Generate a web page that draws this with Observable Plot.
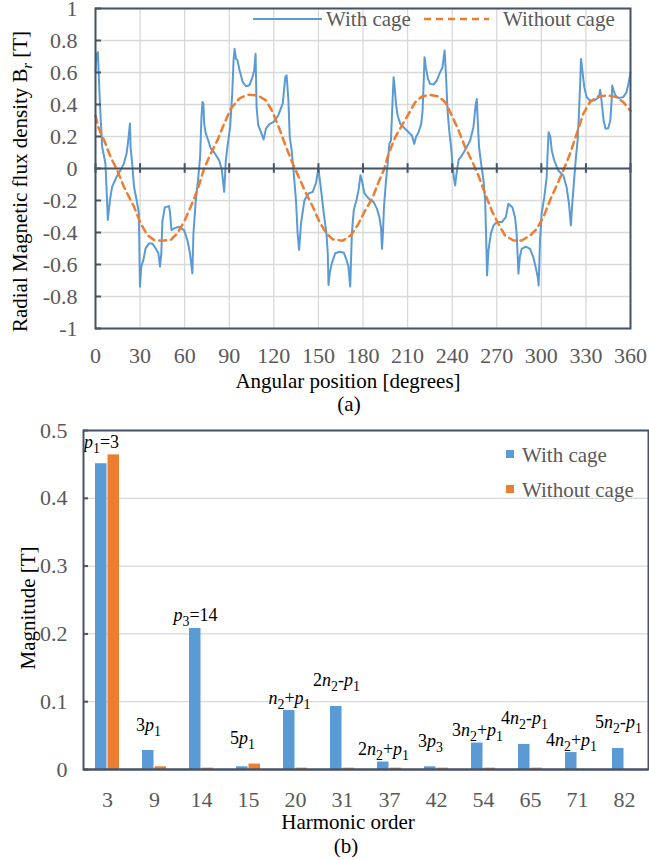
<!DOCTYPE html>
<html><head><meta charset="utf-8">
<script src="https://cdn.jsdelivr.net/npm/d3@7"></script>
<script src="https://cdn.jsdelivr.net/npm/@observablehq/plot@0.6"></script>
<style>
body{margin:0;background:#fff;font-family:"Liberation Serif","Times New Roman",Times,"DejaVu Serif",serif;}
#wrap{position:relative;width:649px;height:860px;overflow:hidden;background:#fff}
#chartA,#chartB{position:absolute;left:0}
#chartA{top:0}
#chartB{top:418px}
.ov{position:absolute;left:0;top:0;pointer-events:none;font-family:"Liberation Serif","Times New Roman",Times,"DejaVu Serif",serif;}
</style></head><body>
<div id="wrap">
  <div id="chartA"></div>
  <div id="chartB"></div>
  <svg class="ov" width="649" height="860" font-size="21" fill="#595959">
    <line x1="253" x2="322" y1="19" y2="19" stroke="#5b9bd5" stroke-width="2"/>
    <text x="326" y="26">With cage</text>
    <line x1="424" x2="489" y1="19" y2="19" stroke="#ed7d31" stroke-width="2.5" stroke-dasharray="7,5"/>
    <text x="503" y="26">Without cage</text>
    <rect x="506" y="450" width="8" height="8" fill="#5b9bd5"/>
    <text x="522" y="462">With cage</text>
    <rect x="506" y="485" width="8" height="8" fill="#ed7d31"/>
    <text x="522" y="497">Without cage</text>
  </svg>
</div>
<script>
// ---------- Panel (a): radial flux density waveform ----------
const angleWith = [0,0.7,1.6,3,4.5,6.7,8.3,9.7,11.2,14.2,16.9,19.1,20.9,21.8,23.2,23.6,24.7,25.9,27.7,29.2,29.9,30.8,32.2,33.7,36,38.2,40.5,42.3,43.4,44.3,45,46.6,49.5,50.2,51.1,52.9,56.2,59.6,61.8,63.6,65.2,65.9,67.5,69,70.4,71.3,72,72.6,73.1,74.2,75.8,77.6,80.3,83.2,85,86.6,87.7,88.8,90.6,92,92.9,93.6,94.5,95.6,96.7,99,101.2,103.5,105.3,106.8,107.7,108.4,109.5,111.3,113.1,114.7,117,119.9,123,126,127.7,128.6,129.8,130.7,132,133.4,134.9,136,137,138.3,140.6,143.3,146.2,148.4,150,151.4,153.6,155.4,156.3,156.8,157.6,159,161.3,164.2,167.1,168.9,170.2,171.4,172.5,173.8,175.6,177,178.3,179.2,181,183.7,185.5,187.2,189.4,191,192.1,192.8,193.4,194.1,195.4,196.8,197.7,198.8,199.9,200.6,201.3,202.2,203.3,205.1,207.3,210.7,212.9,214.5,215.6,217.4,219.2,220.1,220.8,221.4,222.3,223.7,225.2,227.5,229.7,231.9,233.5,234.9,235.8,236.9,238,239.3,240.2,241.1,242,242.9,244.3,246.5,249.2,252.1,254.3,255.9,256.6,257.2,258.1,259.5,261.1,262.2,262.8,263.5,264.4,266,267.8,270,273.4,276.1,277.8,280.5,282.3,283.4,284.6,285.5,286.8,289.5,292.4,294.6,296.2,297.6,298.2,299.1,300.2,302,303.6,304.3,304.9,306.1,307,308.7,311.4,314.8,317,318.6,319.9,320.8,322.2,323.3,324.4,325.3,326.2,326.7,327.6,328.9,330.5,332.7,335.6,338.8,339.6,340.5,341.9,343.2,345,346.4,347.3,347.7,348.6,349.9,352.2,355.1,357.3,358.9,360];
const fluxWith = [0.6,0.717,0.728,0.4,0.135,0.031,-0.322,-0.198,-0.114,-0.052,-0.01,0.031,0.094,0.156,0.281,0.135,0.031,-0.114,-0.198,-0.281,-0.738,-0.613,-0.572,-0.499,-0.468,-0.468,-0.499,-0.53,-0.613,-0.53,-0.333,-0.243,-0.235,-0.281,-0.385,-0.374,-0.364,-0.385,-0.447,-0.53,-0.655,-0.405,-0.198,-0.073,0.073,0.322,0.416,0.405,0.281,0.218,0.177,0.125,0.094,0.052,-0.01,-0.146,0.052,0.135,0.26,0.468,0.676,0.748,0.686,0.676,0.624,0.541,0.514,0.52,0.561,0.613,0.717,0.385,0.27,0.229,0.181,0.249,0.277,0.291,0.333,0.405,0.572,0.582,0.426,0.198,0.114,-0.031,-0.198,-0.405,-0.509,-0.343,-0.198,-0.156,-0.146,-0.089,0,-0.104,-0.281,-0.405,-0.53,-0.728,-0.655,-0.593,-0.53,-0.52,-0.526,-0.572,-0.613,-0.738,-0.405,-0.26,-0.198,-0.135,-0.042,-0.073,-0.156,-0.187,-0.198,-0.21,-0.252,-0.304,-0.367,-0.502,-0.408,-0.242,-0.085,0.05,0.154,0.175,0.425,0.571,0.508,0.404,0.331,0.279,0.258,0.227,0.206,0.154,0.196,0.227,0.279,0.363,0.529,0.696,0.633,0.56,0.529,0.525,0.55,0.602,0.633,0.738,0.592,0.363,0.238,0.133,0.029,-0.054,-0.106,-0.033,0.054,0.081,0.123,0.175,0.258,0.404,0.435,0.3,0.133,0.029,-0.075,-0.2,-0.408,-0.669,-0.513,-0.408,-0.356,-0.335,-0.335,-0.304,-0.221,-0.242,-0.304,-0.408,-0.658,-0.554,-0.502,-0.488,-0.502,-0.554,-0.617,-0.679,-0.731,-0.45,-0.283,-0.179,-0.054,0.113,0.227,0.196,0.113,0.05,-0.013,-0.044,-0.117,-0.221,-0.356,-0.221,-0.054,0.071,0.175,0.342,0.55,0.685,0.613,0.508,0.446,0.425,0.425,0.446,0.492,0.425,0.3,0.248,0.252,0.3,0.425,0.519,0.488,0.456,0.44,0.446,0.477,0.54,0.602];
const angleWithout = [0,2.2,6.7,10.1,14.6,19.1,22.5,25.9,30.4,34.9,39.4,45,50.6,55.1,59.6,64.1,68.6,73.1,77.6,82.1,86.6,91.1,96.7,102.3,109.1,114.7,119.2,123.7,128.2,132.7,137.2,141.7,146.2,150.7,155.2,159.7,166.4,172,176.5,181,186,190.5,193.9,197.2,201.7,206.2,210.7,215.2,219.6,225.2,230.8,235.3,239.8,244.3,248.7,253.2,257.7,262.2,266.6,271.1,275.6,281.2,286.8,292.4,296.9,301.4,305.8,310.3,314.8,319.3,323.8,328.2,332.7,338.3,345,350.6,355.1,360];
const fluxWithout = [0.33,0.25,0.156,0.073,-0.01,-0.114,-0.177,-0.239,-0.343,-0.416,-0.447,-0.451,-0.447,-0.405,-0.333,-0.239,-0.135,0,0.094,0.177,0.281,0.374,0.437,0.461,0.457,0.426,0.353,0.249,0.135,0.031,-0.062,-0.156,-0.239,-0.333,-0.405,-0.443,-0.451,-0.416,-0.353,-0.27,-0.19,-0.085,-0.013,0.092,0.196,0.269,0.342,0.415,0.45,0.46,0.45,0.415,0.331,0.238,0.133,0.05,-0.044,-0.158,-0.263,-0.346,-0.419,-0.45,-0.45,-0.419,-0.377,-0.304,-0.2,-0.106,-0.013,0.092,0.217,0.342,0.415,0.452,0.456,0.446,0.415,0.36];
const angleTicks = [0,30,60,90,120,150,180,210,240,270,300,330,360];
const fluxTicks = [-1,-0.8,-0.6,-0.4,-0.2,0,0.2,0.4,0.6,0.8,1];

// ---------- Panel (b): harmonic spectrum ----------
const harmonics = ["3","9","14","15","20","31","37","42","54","65","71","82"];
const magWith = [0.451,0.028,0.208,0.004,0.087,0.093,0.011,0.004,0.039,0.037,0.025,0.031];
const magWithout = [0.464,0.004,0.002,0.008,0.002,0.002,0.002,0.002,0.002,0.002,0,0];
const harmonicLabels = ["*p*_1=3","3*p*_1","*p*_3=14","5*p*_1","*n*_2+*p*_1","2*n*_2-*p*_1","2*n*_2+*p*_1","3*p*_3","3*n*_2+*p*_1","4*n*_2-*p*_1","4*n*_2+*p*_1","5*n*_2-*p*_1"];
const magTicks = [0,0.1,0.2,0.3,0.4,0.5];

const BLUE = "#5b9bd5", ORANGE = "#ed7d31", DARK = "#465467", GRID = "#d9d9d9";
const FONT = "'Liberation Serif','Times New Roman',Times,'DejaVu Serif',serif";

// rich text: *x* italic, _c or _{..} subscript
function richify(root) {
  const ns = "http://www.w3.org/2000/svg";
  root.querySelectorAll("text").forEach(t => {
    const s = t.textContent;
    if (!/[*_]/.test(s)) return;
    const size = parseFloat(t.getAttribute("font-size")) || 21;
    const shift = Math.round(size * 0.22);
    while (t.firstChild) t.removeChild(t.firstChild);
    const re = /_\{([^}]*)\}|_(.)|\*([^*]+)\*|([^*_]+)/g;
    let m, shifted = false;
    while ((m = re.exec(s))) {
      let txt, sub = false, ital = false;
      if (m[1] !== undefined) { sub = true; txt = m[1]; }
      else if (m[2] !== undefined) { sub = true; txt = m[2]; }
      else if (m[3] !== undefined) { ital = true; txt = m[3]; }
      else txt = m[4];
      if (sub && /^\*.*\*$/.test(txt)) { ital = true; txt = txt.slice(1, -1); }
      const ts = document.createElementNS(ns, "tspan");
      ts.textContent = txt;
      if (ital) ts.setAttribute("font-style", "italic");
      if (sub) {
        ts.setAttribute("font-size", (size * 0.66).toFixed(1));
        if (!shifted) { ts.setAttribute("dy", shift); shifted = true; }
      } else if (shifted) { ts.setAttribute("dy", -shift); shifted = false; }
      t.appendChild(ts);
    }
  });
}

const lineWith = angleWith.map((a, i) => ({angle: a, flux: fluxWith[i]}));
const lineWithout = angleWithout.map((a, i) => ({angle: a, flux: fluxWithout[i]}));

const chartA = Plot.plot({
  width: 649, height: 418,
  marginTop: 8, marginRight: 19, marginBottom: 90, marginLeft: 95,
  style: {fontFamily: FONT, fontSize: "22px", color: "#595959", background: "transparent", overflow: "visible"},
  x: {domain: [0, 360], ticks: angleTicks, tickSize: 0, tickPadding: 19, tickFormat: d => String(d), label: null},
  y: {domain: [-1, 1], ticks: fluxTicks, tickSize: 0, tickPadding: 18, tickFormat: d => String(d), label: null},
  marks: [
    Plot.ruleX(angleTicks, {x: d => d, stroke: GRID, strokeWidth: 1.3}),
    Plot.ruleY(fluxTicks, {y: d => d, stroke: GRID, strokeWidth: 1.3}),
    Plot.line(lineWith, {x: "angle", y: "flux", stroke: BLUE, strokeWidth: 2}),
    Plot.line(lineWithout, {x: "angle", y: "flux", stroke: ORANGE, strokeWidth: 2.5, strokeDasharray: "7,5"}),
    Plot.ruleY([0], {stroke: DARK, strokeWidth: 2}),
    Plot.ruleX(angleTicks, {x: d => d, y1: -0.03, y2: 0.03, stroke: DARK, strokeWidth: 2}),
    Plot.tickY(fluxTicks, {y: d => d, stroke: DARK, strokeWidth: 2, insetRight: 529}),
    Plot.frame({stroke: DARK, strokeWidth: 2}),
    Plot.text(["Radial Magnetic flux density B_{*r*} [T]"], {text: d => d, frameAnchor: "left", textAnchor: "middle", lineAnchor: "middle", rotate: -90, dx: -75, dy: 13, fontSize: 21, fill: "black"}),
    Plot.text(["Angular position [degrees]"], {text: d => d, frameAnchor: "bottom", textAnchor: "middle", lineAnchor: "middle", dx: -15, dy: 53, fontSize: 21, fill: "black"}),
    Plot.text(["(a)"], {text: d => d, frameAnchor: "bottom", textAnchor: "middle", lineAnchor: "middle", dx: -14, dy: 76, fontSize: 21, fill: "black"})
  ]
});
richify(chartA);
document.getElementById("chartA").appendChild(chartA);

// alternate annotation rows (low / high) so neighbouring labels do not collide
const bars = harmonics.map((h, i) => ({h, with: magWith[i], without: magWithout[i], label: harmonicLabels[i], row: i % 2}));
const labelStyle = {x: "h", y: d => Math.max(d.with, d.without), text: "label", lineAnchor: "bottom", dx: -6, fontSize: 18, fill: "black"};

const chartB = Plot.plot({
  width: 649, height: 442,
  marginTop: 12, marginRight: 1, marginBottom: 91, marginLeft: 83,
  style: {fontFamily: FONT, fontSize: "22px", color: "#595959", background: "transparent", overflow: "visible"},
  x: {domain: harmonics, paddingInner: 0.5, paddingOuter: 0.25, tickSize: 0, tickPadding: 22, label: null},
  y: {domain: [0, 0.5], ticks: magTicks, tickSize: 0, tickPadding: 16, tickFormat: d => String(d), label: null},
  marks: [
    Plot.ruleY(magTicks, {y: d => d, stroke: GRID, strokeWidth: 1.3}),
    Plot.barY(bars, {x: "h", y: "with", fill: BLUE, insetRight: 12.5}),
    Plot.barY(bars, {x: "h", y: "without", fill: ORANGE, insetLeft: 12.5}),
    Plot.text(bars, {...labelStyle, filter: d => d.row === 0, dy: -7}),
    Plot.text(bars, {...labelStyle, filter: d => d.row === 1, dy: -20}),
    Plot.ruleY([0], {stroke: DARK, strokeWidth: 2}),
    Plot.tickY(magTicks, {y: d => d, stroke: DARK, strokeWidth: 2, insetRight: 560}),
    Plot.frame({stroke: DARK, strokeWidth: 2}),
    Plot.text(["Magnitude [T]"], {text: d => d, frameAnchor: "left", textAnchor: "middle", lineAnchor: "middle", rotate: -90, dx: -55, dy: 8, fontSize: 21, fill: "black"}),
    Plot.text(["Harmonic order"], {text: d => d, frameAnchor: "bottom", textAnchor: "middle", lineAnchor: "middle", dx: -18, dy: 53, fontSize: 21, fill: "black"}),
    Plot.text(["(b)"], {text: d => d, frameAnchor: "bottom", textAnchor: "middle", lineAnchor: "middle", dx: -20, dy: 77, fontSize: 21, fill: "black"})
  ]
});
richify(chartB);
document.getElementById("chartB").appendChild(chartB);
</script>
</body></html>
